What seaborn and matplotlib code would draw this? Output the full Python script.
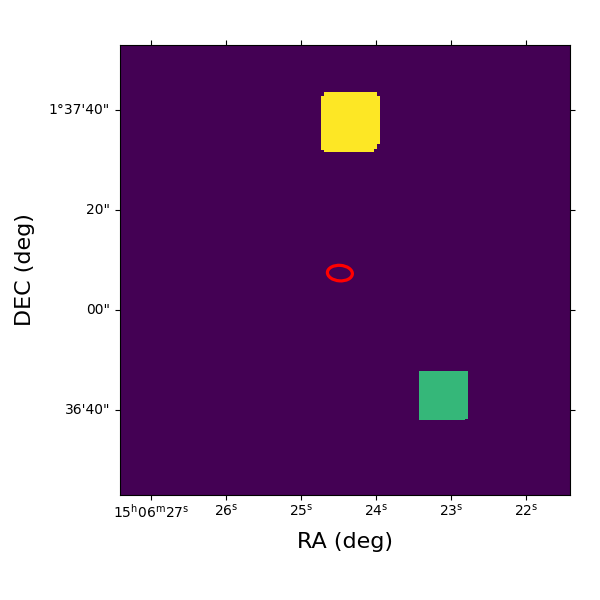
import numpy as np
import matplotlib
matplotlib.use("Agg")
import matplotlib.pyplot as plt
from matplotlib.patches import Ellipse
import seaborn as sns

# image grid (0.3 arcsec per cell) and region values
grid_size = 300
background_value = 0
yellow_value = 3
green_value = 2
# regions: (col start, col stop, row start, row stop)
yellow_rects = [(134, 173, 34, 66), (136, 171, 31, 34), (134, 171, 66, 69),
                (134, 169, 69, 70), (136, 169, 70, 71)]
green_rects = [(199, 232, 217, 249), (199, 230, 249, 250)]

# world-coordinate ticks
ra_seconds = [27, 26, 25, 24, 23, 22]
ra_labels = [r"15$^{\mathrm{h}}$06$^{\mathrm{m}}$27$^{\mathrm{s}}$", r"26$^{\mathrm{s}}$",
             r"25$^{\mathrm{s}}$", r"24$^{\mathrm{s}}$", r"23$^{\mathrm{s}}$", r"22$^{\mathrm{s}}$"]
dec_arcsec = [100, 80, 60, 40]
dec_labels = ["1°37'40\"", "20\"", "00\"", "36'40\""]

# world coordinate system of the grid
cells_per_ra_second = 50.0
cells_per_arcsec = 1 / 0.3
ra_col0 = 27 + 20.6 / cells_per_ra_second
dec_row0 = 100 + 43.6 / cells_per_arcsec

# ellipse region in world coordinates
ell_ra, ell_dec = 24.48, 67.46
ell_width_arcsec, ell_height_arcsec = 5.0, 3.1
ell_angle = 4

def col_of(ra):
    return (ra_col0 - ra) * cells_per_ra_second

def row_of(dec):
    return (dec_row0 - dec) * cells_per_arcsec

image = np.full((grid_size, grid_size), background_value, dtype=float)
for c0, c1, r0, r1 in yellow_rects:
    image[r0:r1, c0:c1] = yellow_value
for c0, c1, r0, r1 in green_rects:
    image[r0:r1, c0:c1] = green_value

fig = plt.figure(figsize=(6, 6), dpi=100)
ax = fig.add_axes([120 / 600, 105 / 600, 450 / 600, 450 / 600])
sns.heatmap(image, ax=ax, cmap="viridis", vmin=0, vmax=3, cbar=False,
            square=False, xticklabels=False, yticklabels=False, rasterized=True)
for sp in ax.spines.values():
    sp.set_visible(True)
    sp.set_linewidth(0.8)
    sp.set_color("black")

ax.set_xticks([col_of(r) for r in ra_seconds])
ax.set_xticklabels(ra_labels, rotation=0, fontsize=10)
ax.set_yticks([row_of(d) for d in dec_arcsec])
ax.set_yticklabels(dec_labels, rotation=0, fontsize=10, va="center")
ax.tick_params(axis="both", which="major", direction="out", length=3.5, width=0.8,
               top=True, right=True, bottom=True, left=True,
               labeltop=False, labelright=False)
ax.tick_params(axis="x", pad=2)
ax.tick_params(axis="y", pad=3.6)
ax.set_xlabel("RA (deg)", fontsize=16, labelpad=8)
ax.set_ylabel("DEC (deg)", fontsize=16, labelpad=9.7)

ax.add_patch(Ellipse((col_of(ell_ra), row_of(ell_dec)),
                     ell_width_arcsec * cells_per_arcsec,
                     ell_height_arcsec * cells_per_arcsec,
                     angle=ell_angle, fill=False, edgecolor="red", linewidth=2.3))

fig.savefig("out.png", dpi=100)
